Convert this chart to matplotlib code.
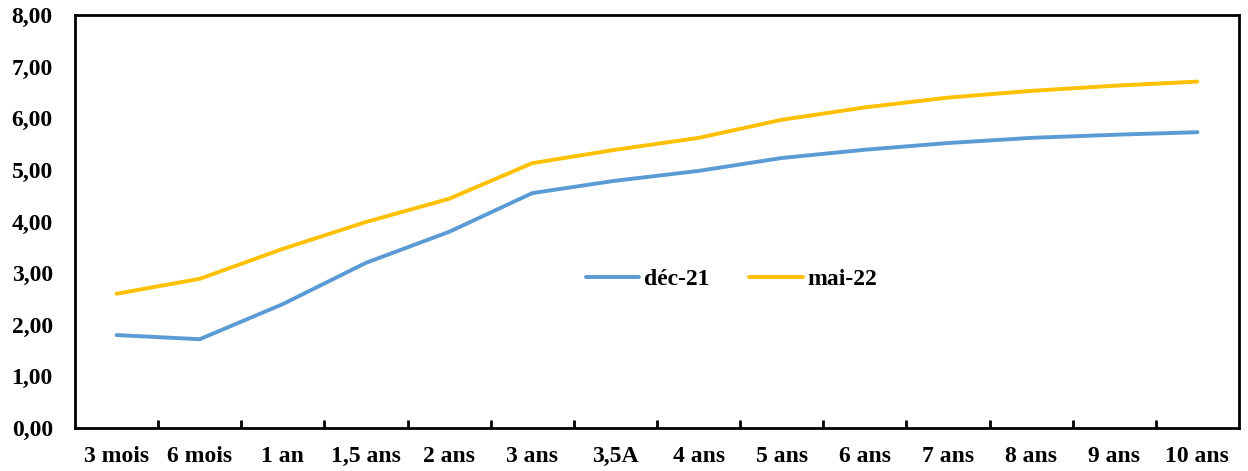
import matplotlib.pyplot as plt
import numpy as np

# courbe des taux : maturités et rendements (%)
maturites = ["3 mois", "6 mois", "1 an", "1,5 ans", "2 ans", "3 ans", "3,5A",
             "4 ans", "5 ans", "6 ans", "7 ans", "8 ans", "9 ans", "10 ans"]
dec21 = [1.80, 1.72, 2.40, 3.20, 3.80, 4.55, 4.79, 4.98, 5.23, 5.39, 5.52, 5.62, 5.68, 5.73]
mai22 = [2.60, 2.89, 3.47, 3.99, 4.44, 5.13, 5.39, 5.62, 5.97, 6.21, 6.40, 6.53, 6.63, 6.71]

plt.rcParams['font.family'] = ['Liberation Serif', 'DejaVu Serif']
plt.rcParams['font.weight'] = 'bold'

fig = plt.figure(figsize=(12.48, 4.71), dpi=100)
ax = fig.add_axes([75 / 1248, 43 / 471, 1164 / 1248, 413 / 471])

x = np.arange(len(maturites))
ax.plot(x, dec21, color='#5B9BD5', lw=2.8, solid_capstyle='round', label='déc-21')
ax.plot(x, mai22, color='#FFC000', lw=2.8, solid_capstyle='round', label='mai-22')

ax.set_xlim(-0.5, len(maturites) - 0.5)
ax.set_ylim(0, 8)
ax.set_yticks(np.arange(0, 9, 1))
ax.set_yticklabels([f"{v:.2f}".replace('.', ',') for v in range(9)])
ax.set_xticks(x)
ax.set_xticklabels(maturites)
ax.set_xticks(np.arange(0.5, len(maturites) - 1, 1), minor=True)

ax.tick_params(axis='x', which='major', length=0, pad=13, labelsize=17)
ax.tick_params(axis='x', which='minor', direction='in', length=6, width=2)
ax.tick_params(axis='y', length=0, pad=16, labelsize=17)
for lab in ax.get_xticklabels() + ax.get_yticklabels():
    lab.set_fontweight('bold')

for s in ax.spines.values():
    s.set_linewidth(2)
    s.set_color('black')

leg = ax.legend(loc='center', bbox_to_anchor=(0.564, 0.36), ncol=2, frameon=False,
                prop={'weight': 'bold', 'size': 17}, handlelength=2.25,
                columnspacing=1.7, handletextpad=0.2)

fig.savefig('out.png', dpi=100)
